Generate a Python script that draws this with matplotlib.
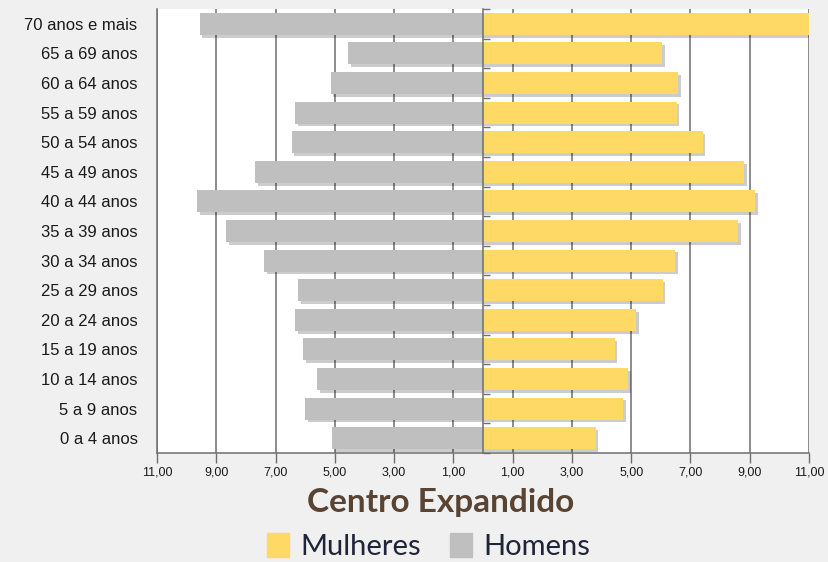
import numpy as np
import matplotlib
matplotlib.use("Agg")
import matplotlib.pyplot as plt
import matplotlib.patheffects as pe
from matplotlib.patches import Patch
from matplotlib.ticker import FixedLocator, FuncFormatter

# faixas etarias (de baixo para cima)
faixas = ["0 a 4 anos", "5 a 9 anos", "10 a 14 anos", "15 a 19 anos",
          "20 a 24 anos", "25 a 29 anos", "30 a 34 anos", "35 a 39 anos",
          "40 a 44 anos", "45 a 49 anos", "50 a 54 anos", "55 a 59 anos",
          "60 a 64 anos", "65 a 69 anos", "70 anos e mais"]

# percentuais
homens = [5.10, 6.01, 5.61, 6.06, 6.35, 6.24, 7.39, 8.66,
          9.66, 7.70, 6.46, 6.35, 5.14, 4.56, 9.56]
mulheres = [3.80, 4.74, 4.90, 4.44, 5.16, 6.06, 6.47, 8.62,
            9.18, 8.82, 7.41, 6.53, 6.57, 6.04, 11.02]

xticks = [-11, -9, -7, -5, -3, -1, 1, 3, 5, 7, 9, 11]

cor_mulher = "#FFD966"
cor_homem = "#BFBFBF"
cor_grade = "#6E6E6E"

fig = plt.figure(figsize=(8.29, 5.62), dpi=100)
fig.patch.set_facecolor("#F0F0F0")
ax = fig.add_axes([0.1894, 0.194, 0.7865, 0.790])
ax.set_facecolor("white")

y = np.arange(len(faixas))
sombra = [pe.SimplePatchShadow(offset=(2, -2), shadow_rgbFace="#000000", alpha=0.2),
          pe.Normal()]
bh = ax.barh(y, -np.array(homens), height=0.74, color=cor_homem, zorder=3)
bm = ax.barh(y, mulheres, height=0.74, color=cor_mulher, zorder=3)
for b in list(bh) + list(bm):
    b.set_path_effects(sombra)

ax.set_xlim(-11, 11)
ax.set_ylim(-0.5, len(faixas) - 0.5)
ax.xaxis.set_major_locator(FixedLocator(xticks))
ax.xaxis.set_major_formatter(FuncFormatter(lambda v, p: ("%.2f" % abs(v)).replace(".", ",")))
ax.grid(axis="x", color=cor_grade, linewidth=1.1)
ax.set_axisbelow(True)

ax.set_yticks(y)
ax.set_yticklabels(faixas)
ax.tick_params(axis="y", length=0, pad=14, labelsize=12, labelcolor="#1a1a1a")
ax.tick_params(axis="x", length=7, width=1, color=cor_grade, pad=3,
               labelsize=9, labelcolor="#1a1a1a")
for lab in ax.get_xticklabels() + ax.get_yticklabels():
    lab.set_family(["Liberation Sans Narrow", "Liberation Sans", "DejaVu Sans"])
for lab in ax.get_yticklabels():
    lab.set_family(["Liberation Sans", "DejaVu Sans"])

for s in ["top", "right"]:
    ax.spines[s].set_visible(False)
ax.spines["left"].set_color(cor_grade)
ax.spines["bottom"].set_color(cor_grade)
ax.spines["left"].set_linewidth(1.1)
ax.spines["bottom"].set_linewidth(1.1)

# eixo central com marcas entre as faixas
centro = ax.secondary_yaxis(0.5)
centro.set_yticks(np.arange(len(faixas) + 1) - 0.5)
centro.set_yticklabels([])
centro.tick_params(length=5, width=1, color=cor_grade, direction="out")
for s in centro.spines.values():
    s.set_color(cor_grade)
    s.set_linewidth(1.1)
centro.set_zorder(4)

fig.text(0.531, 0.106, "Centro Expandido", ha="center", va="center",
         fontsize=24, fontweight="bold", color="#594433", family="Lato")

handles = [Patch(color=cor_mulher, label="Mulheres"),
           Patch(color=cor_homem, label="Homens")]
fig.legend(handles=handles, loc="center", bbox_to_anchor=(0.517, 0.027), ncol=2,
           frameon=False, handlelength=0.75, handleheight=0.85, handletextpad=0.4,
           columnspacing=1.0, prop={"family": "Lato", "size": 21},
           labelcolor="#1f2438")

fig.savefig("out.png", dpi=100, facecolor=fig.get_facecolor())
